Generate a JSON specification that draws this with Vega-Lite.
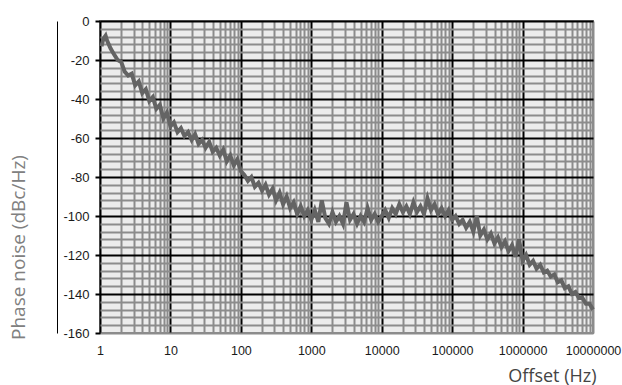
{
  "$schema": "https://vega.github.io/schema/vega-lite/v6.json",
  "width": 493,
  "height": 312,
  "autosize": {"type": "none"},
  "padding": {"left": 100, "top": 21, "right": 29, "bottom": 52},
  "background": "white",
  "config": {
    "view": {"fill": "#ececec", "stroke": "#8c8c8c", "strokeWidth": 2},
    "axis": {"labelFont": "Liberation Sans", "titleFont": "Open Sans", "titleFontWeight": "normal"}
  },
  "data": {"values": [
    {"f": 1.05, "pn": -13}, {"f": 1.12, "pn": -9}, {"f": 1.2, "pn": -7.5}, {"f": 1.26, "pn": -10}, {"f": 1.41, "pn": -14},
    {"f": 1.58, "pn": -17}, {"f": 1.78, "pn": -20}, {"f": 2.0, "pn": -21}, {"f": 2.24, "pn": -26}, {"f": 2.51, "pn": -28},
    {"f": 2.82, "pn": -27}, {"f": 3.16, "pn": -33}, {"f": 3.55, "pn": -31}, {"f": 3.98, "pn": -37}, {"f": 4.47, "pn": -35},
    {"f": 5.01, "pn": -41}, {"f": 5.62, "pn": -39}, {"f": 6.31, "pn": -45}, {"f": 7.08, "pn": -43}, {"f": 7.94, "pn": -50},
    {"f": 8.91, "pn": -47}, {"f": 10, "pn": -54},
    {"f": 11.2, "pn": -52}, {"f": 12.6, "pn": -57}, {"f": 14.1, "pn": -55}, {"f": 15.8, "pn": -59}, {"f": 17.8, "pn": -57},
    {"f": 20, "pn": -61}, {"f": 22.4, "pn": -58}, {"f": 25.1, "pn": -63}, {"f": 28.2, "pn": -61}, {"f": 31.6, "pn": -65},
    {"f": 35.5, "pn": -62}, {"f": 39.8, "pn": -67}, {"f": 44.7, "pn": -65}, {"f": 50.1, "pn": -69}, {"f": 56.2, "pn": -66},
    {"f": 63.1, "pn": -72}, {"f": 70.8, "pn": -69}, {"f": 79.4, "pn": -74}, {"f": 89.1, "pn": -71}, {"f": 100, "pn": -77},
    {"f": 112, "pn": -79}, {"f": 126, "pn": -82}, {"f": 141, "pn": -80}, {"f": 158, "pn": -85}, {"f": 178, "pn": -83},
    {"f": 200, "pn": -87}, {"f": 224, "pn": -84}, {"f": 251, "pn": -89}, {"f": 282, "pn": -86}, {"f": 316, "pn": -92},
    {"f": 355, "pn": -88}, {"f": 398, "pn": -94}, {"f": 447, "pn": -90}, {"f": 501, "pn": -96}, {"f": 562, "pn": -93},
    {"f": 631, "pn": -99}, {"f": 708, "pn": -95}, {"f": 794, "pn": -100}, {"f": 891, "pn": -97}, {"f": 1000, "pn": -102},
    {"f": 1120, "pn": -97}, {"f": 1260, "pn": -103}, {"f": 1410, "pn": -92}, {"f": 1580, "pn": -101}, {"f": 1780, "pn": -104},
    {"f": 2000, "pn": -98}, {"f": 2240, "pn": -103}, {"f": 2510, "pn": -100}, {"f": 2820, "pn": -104}, {"f": 3160, "pn": -93},
    {"f": 3550, "pn": -102}, {"f": 3980, "pn": -99}, {"f": 4470, "pn": -104}, {"f": 5010, "pn": -100}, {"f": 5620, "pn": -103},
    {"f": 6310, "pn": -96}, {"f": 7080, "pn": -102}, {"f": 7940, "pn": -99}, {"f": 8910, "pn": -103}, {"f": 10000, "pn": -100},
    {"f": 11200, "pn": -97}, {"f": 12600, "pn": -101}, {"f": 14100, "pn": -96}, {"f": 15800, "pn": -99}, {"f": 17800, "pn": -94},
    {"f": 20000, "pn": -98}, {"f": 22400, "pn": -95}, {"f": 25100, "pn": -99}, {"f": 28200, "pn": -93}, {"f": 31600, "pn": -98},
    {"f": 35500, "pn": -95}, {"f": 39800, "pn": -99}, {"f": 44700, "pn": -91}, {"f": 50100, "pn": -97}, {"f": 56200, "pn": -94},
    {"f": 63100, "pn": -99}, {"f": 70800, "pn": -96}, {"f": 79400, "pn": -100}, {"f": 89100, "pn": -97}, {"f": 100000, "pn": -102},
    {"f": 112000, "pn": -100}, {"f": 126000, "pn": -104}, {"f": 141000, "pn": -102}, {"f": 158000, "pn": -106}, {"f": 178000, "pn": -103},
    {"f": 200000, "pn": -108}, {"f": 224000, "pn": -100}, {"f": 251000, "pn": -110}, {"f": 282000, "pn": -107}, {"f": 316000, "pn": -112},
    {"f": 355000, "pn": -109}, {"f": 398000, "pn": -114}, {"f": 447000, "pn": -111}, {"f": 501000, "pn": -116}, {"f": 562000, "pn": -113},
    {"f": 631000, "pn": -118}, {"f": 708000, "pn": -115}, {"f": 794000, "pn": -121}, {"f": 891000, "pn": -112}, {"f": 1000000, "pn": -123},
    {"f": 1120000, "pn": -120}, {"f": 1260000, "pn": -125}, {"f": 1410000, "pn": -123}, {"f": 1580000, "pn": -127}, {"f": 1780000, "pn": -125},
    {"f": 2000000, "pn": -129}, {"f": 2240000, "pn": -128}, {"f": 2510000, "pn": -131}, {"f": 2820000, "pn": -130}, {"f": 3160000, "pn": -134},
    {"f": 3550000, "pn": -133}, {"f": 3980000, "pn": -137}, {"f": 4470000, "pn": -136}, {"f": 5010000, "pn": -140}, {"f": 5620000, "pn": -139},
    {"f": 6310000, "pn": -142}, {"f": 7080000, "pn": -142}, {"f": 7940000, "pn": -145}, {"f": 8910000, "pn": -145}, {"f": 10000000, "pn": -148}
  ]},
  "layer": [
    {
      "mark": {"type": "line", "opacity": 0},
      "encoding": {
        "x": {"field": "f", "type": "quantitative", "scale": {"type": "log", "domain": [1, 10000000], "nice": false},
          "axis": {"orient": "bottom", "title": null, "labels": false, "ticks": false, "domain": false, "grid": true,
            "gridColor": "#8c8c8c", "gridWidth": 2, "gridOpacity": 1,
            "values": [2,3,4,5,6,7,8,9,20,30,40,50,60,70,80,90,200,300,400,500,600,700,800,900,2000,3000,4000,5000,6000,7000,8000,9000,20000,30000,40000,50000,60000,70000,80000,90000,200000,300000,400000,500000,600000,700000,800000,900000,2000000,3000000,4000000,5000000,6000000,7000000,8000000,9000000]}},
        "y": {"field": "pn", "type": "quantitative", "scale": {"domain": [-160, 0], "nice": false},
          "axis": {"orient": "left", "title": null, "labels": false, "ticks": false, "domain": false, "grid": true,
            "gridColor": "#8c8c8c", "gridWidth": 2, "gridOpacity": 1,
            "values": [-4,-8,-12,-16,-24,-28,-32,-36,-44,-48,-52,-56,-64,-68,-72,-76,-84,-88,-92,-96,-104,-108,-112,-116,-124,-128,-132,-136,-144,-148,-152,-156]}}
      }
    },
    {
      "mark": {"type": "line", "color": "#646464", "strokeWidth": 4, "strokeJoin": "miter"},
      "encoding": {
        "x": {"field": "f", "type": "quantitative", "scale": {"type": "log", "domain": [1, 10000000], "nice": false},
          "axis": {"orient": "bottom", "title": "Offset (Hz)", "values": [1,10,100,1000,10000,100000,1000000,10000000],
            "labelExpr": "'' + datum.value", "labelFontSize": 12.5, "labelColor": "#1a1a1a", "labelPadding": 11,
            "labelFlush": false, "labelOverlap": false,
            "ticks": false, "domain": false, "grid": true,
            "gridColor": {"condition": {"test": "datum.value == 10000000", "value": "#8c8c8c"}, "value": "black"},
            "gridWidth": 2, "gridOpacity": 1,
            "titleFontSize": 18, "titleColor": "#444", "titleAnchor": "end", "titleAlign": "right",
            "titleX": 496, "titleY": 43, "titleBaseline": "middle"}},
        "y": {"field": "pn", "type": "quantitative", "scale": {"domain": [-160, 0], "nice": false},
          "axis": {"orient": "left", "title": "Phase noise (dBc/Hz)", "values": [0,-20,-40,-60,-80,-100,-120,-140,-160],
            "labelExpr": "'' + datum.value", "labelFontSize": 13, "labelColor": "#1a1a1a", "labelPadding": 6,
            "tickColor": "black", "tickSize": 5, "tickWidth": 2, "domain": false, "grid": true,
            "gridColor": {"condition": {"test": "datum.value == -160", "value": "#8c8c8c"}, "value": "black"},
            "gridWidth": 2, "gridOpacity": 1,
            "titleFontSize": 19, "titleColor": "#808080", "titleAngle": -90, "titleAlign": "center",
            "titleBaseline": "middle", "titleX": -82, "titleY": 226}}
      }
    },
    {
      "mark": {"type": "line", "opacity": 0},
      "encoding": {
        "x": {"field": "f", "type": "quantitative", "scale": {"type": "log", "domain": [1, 10000000], "nice": false}, "axis": null},
        "y": {"field": "pn", "type": "quantitative", "scale": {"domain": [-160, 0], "nice": false},
          "axis": {"orient": "left", "title": null, "labels": false, "ticks": false, "grid": false,
            "domain": true, "domainColor": "black", "domainWidth": 1, "offset": 43}}
      }
    }
  ],
  "resolve": {"axis": {"x": "independent", "y": "independent"}}
}
